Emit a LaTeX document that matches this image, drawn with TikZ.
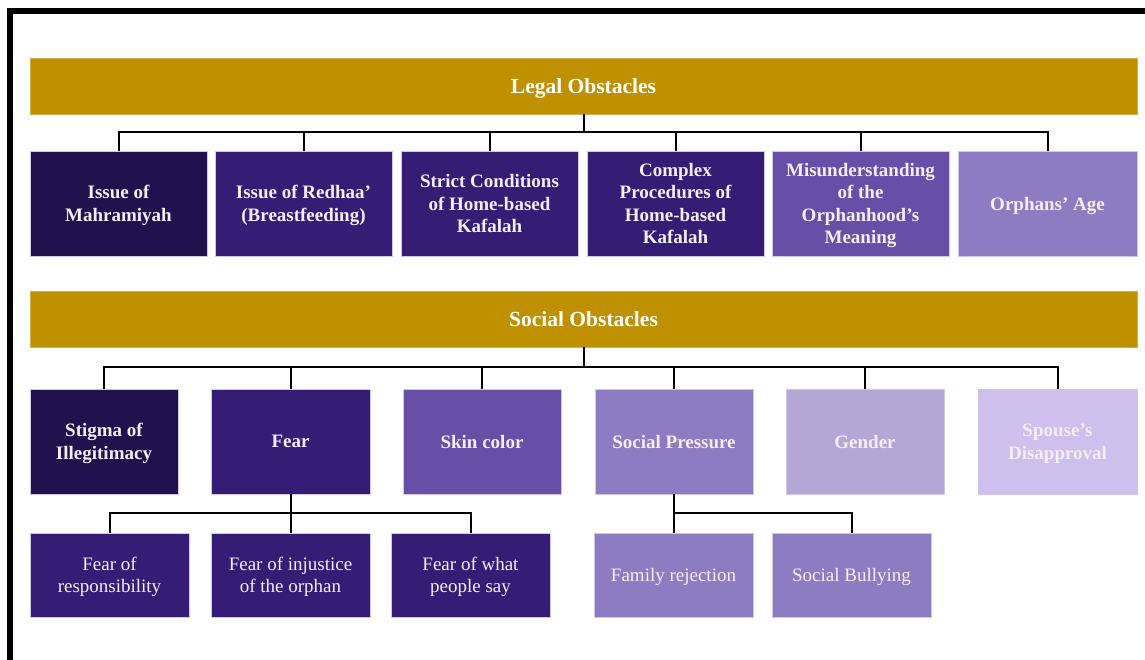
\documentclass[tikz,border=0pt]{standalone}
\usepackage{fontspec}
\setmainfont{Liberation Serif}
\definecolor{gold}{HTML}{BF9000}
\definecolor{plA}{HTML}{20124D}
\definecolor{plB}{HTML}{351C75}
\definecolor{plC}{HTML}{674EA7}
\definecolor{plD}{HTML}{8E7CC3}
\definecolor{plE}{HTML}{B4A7D6}
\definecolor{plF}{HTML}{CFBFEC}
\definecolor{rim}{HTML}{CFC6EA}
\definecolor{txt}{HTML}{F2EFF8}
\begin{document}
\begin{tikzpicture}[x=1pt,y=-1pt,
  bar/.style={fill=gold,draw=gold!70!white,line width=0.5pt,text=white,font=\fontsize{21.5}{24}\selectfont\bfseries,text depth=0pt,minimum width=1107pt,minimum height=56pt},
  box/.style={draw=rim,line width=0.6pt,text=txt,align=center,inner sep=2pt,text depth=0pt,minimum height=105pt,font=\fontsize{19}{22.5}\selectfont\bfseries},
  leaf/.style={box,minimum height=84pt,minimum width=159pt,font=\fontsize{19}{22.5}\selectfont},
  link/.style={line width=2pt}]
\useasboundingbox (0,0) rectangle (1145,660);
% frame
\draw[line width=6pt] (10,660) -- (10,11) -- (1145,11);
% legal obstacles
\node[bar] (legal) at (583.5,86) {Legal Obstacles};
\node[box,fill=plA,minimum width=177pt] (l1) at (118.5,203.5) {Issue of\\Mahramiyah};
\node[box,fill=plB,minimum width=177pt] (l2) at (303.5,203.5) {Issue of Redhaa’\\(Breastfeeding)};
\node[box,fill=plB,minimum width=177pt] (l3) at (489.5,203.5) {Strict Conditions\\of Home-based\\Kafalah};
\node[box,fill=plB,minimum width=177pt] (l4) at (675.5,203.5) {Complex\\Procedures of\\Home-based\\Kafalah};
\node[box,fill=plC,minimum width=177pt] (l5) at (860.5,203.5) {Misunderstanding\\of the\\Orphanhood’s\\Meaning};
\node[box,fill=plD,minimum width=179pt] (l6) at (1047.5,203.5) {Orphans’ Age};
\foreach \i in {1,...,6}
  \draw[link] (legal.south) -- ++(0,18) -| (l\i.north);
% social obstacles
\node[bar] (social) at (583.5,319) {Social Obstacles};
\node[box,fill=plA,minimum width=148pt] (s1) at (104,441.5) {Stigma of\\Illegitimacy};
\node[box,fill=plB,minimum width=159pt] (s2) at (290.5,441.5) {Fear};
\node[box,fill=plC,minimum width=158pt] (s3) at (482,441.5) {Skin color};
\node[box,fill=plD,minimum width=158pt] (s4) at (674,441.5) {Social Pressure};
\node[box,fill=plE,minimum width=158pt] (s5) at (865,441.5) {Gender};
\node[box,fill=plF,minimum width=159pt] (s6) at (1057.5,441.5) {Spouse’s\\Disapproval};
\foreach \i in {1,...,6}
  \draw[link] (social.south) -- ++(0,20) -| (s\i.north);
% fear
\node[leaf,fill=plB] (f1) at (109.5,575) {Fear of\\responsibility};
\node[leaf,fill=plB] (f2) at (290.5,575) {Fear of injustice\\of the orphan};
\node[leaf,fill=plB] (f3) at (470.5,575) {Fear of what\\people say};
\foreach \i in {1,2,3}
  \draw[link] (s2.south) -- ++(0,19) -| (f\i.north);
% social pressure
\node[leaf,fill=plD] (p1) at (673.5,575) {Family rejection};
\node[leaf,fill=plD] (p2) at (851.5,575) {Social Bullying};
\foreach \i in {1,2}
  \draw[link] (s4.south) -- ++(0,19) -| (p\i.north);
\end{tikzpicture}
\end{document}
